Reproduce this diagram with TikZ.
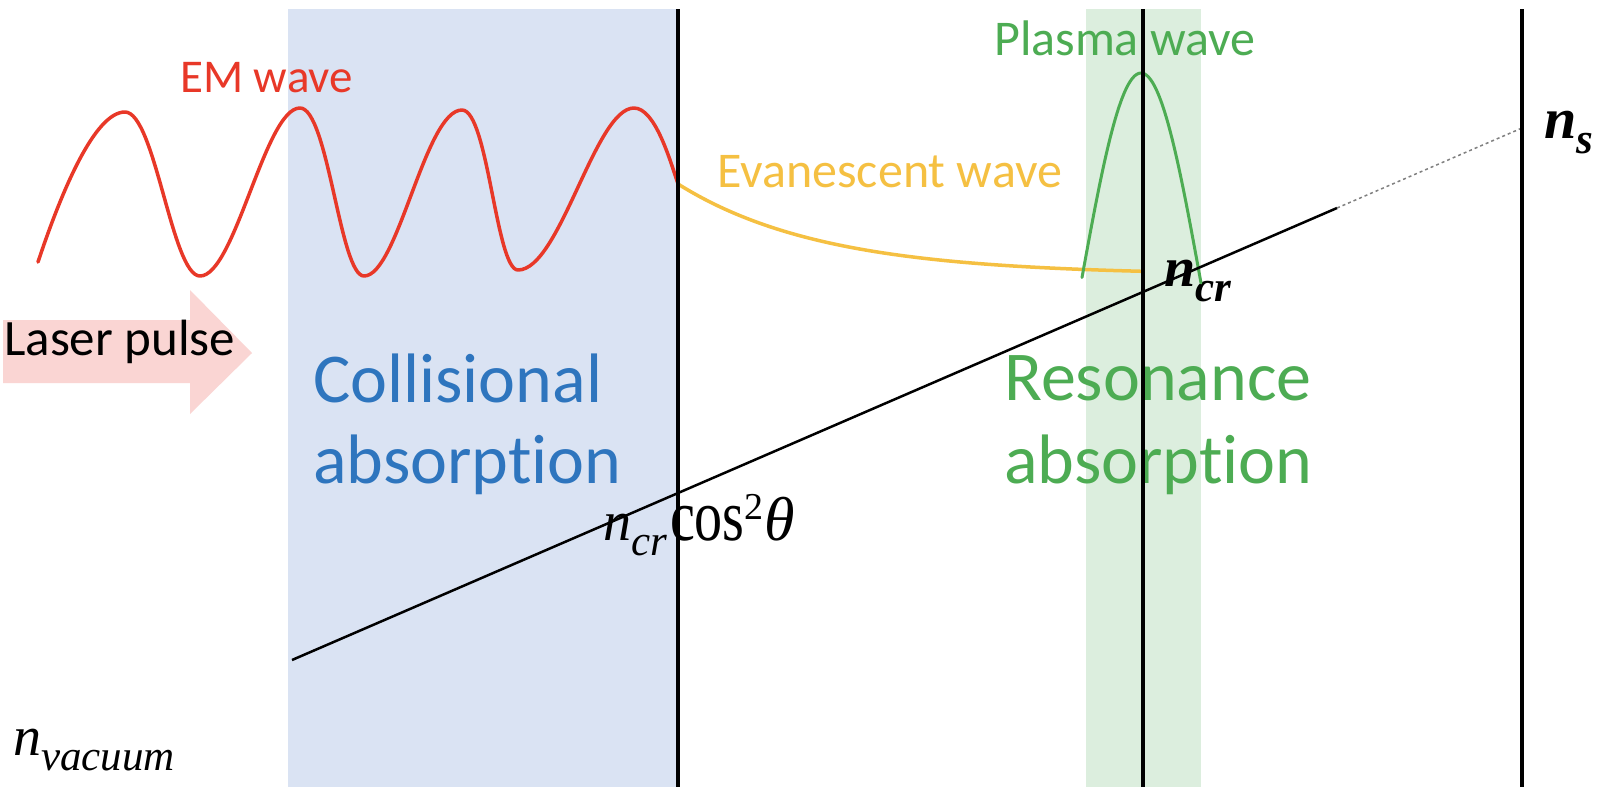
\documentclass[tikz,border=0pt]{standalone}
\usepackage{graphicx}
\usepackage{fontspec}
\newfontfamily\carlito[Ligatures=NoCommon]{Carlito}
\newfontfamily\libser{Liberation Serif}
\definecolor{bluebg}{RGB}{218,227,243}
\definecolor{greenbg}{RGB}{220,238,222}
\definecolor{pinkarrow}{RGB}{250,213,211}
\definecolor{emred}{RGB}{232,56,40}
\definecolor{plgreen}{RGB}{77,172,83}
\definecolor{colblue}{RGB}{46,117,190}
\definecolor{evgold}{RGB}{245,192,66}
\newcommand\lowsub[1]{\raisebox{-15pt}{\fontsize{43}{43}\selectfont\itshape #1}}
\tikzset{
  txt/.style={anchor=base west, inner sep=0pt, font=\carlito\fontsize{50}{60}\selectfont},
  bigtxt/.style={anchor=base west, inner sep=0pt, align=left, font=\carlito\fontsize{70}{81}\selectfont},
  mathlbl/.style={anchor=base west, inner sep=0pt, font=\libser\fontsize{56}{64}\selectfont},
  wave/.style={line width=3.5pt, line cap=round, line join=round},
  vline/.style={line width=3.5pt},
}
\begin{document}
\begin{tikzpicture}[x=1pt,y=-1pt]
\useasboundingbox (0,0) rectangle (1602,796);
\fill[white] (0,0) rectangle (1602,796);
% bands
\fill[bluebg] (288,9) rectangle (678,787);
\fill[greenbg] (1086,9) rectangle (1201,787);
% laser pulse arrow
\fill[pinkarrow] (3,320) -- (190,320) -- (190,290) -- (252,353) -- (190,414) -- (190,383) -- (3,383) -- cycle;
% texts
\node[txt, text=emred, font=\carlito\fontsize{47}{56}\selectfont] (em) at (180,92) {EM wave};
\node[txt, font=\carlito\fontsize{51}{60}\selectfont] (laser) at (4,355) {Laser pulse};
\node[bigtxt, text=colblue] (coll) at (313,402) {Collisional};
\node[bigtxt, text=colblue] (colla) at (313,483) {absorption};
\node[bigtxt, text=plgreen] (res) at (1004,400) {Resonance};
\node[bigtxt, text=plgreen] (resa) at (1004,483) {absorption};
\node[txt, text=plgreen] (plasma) at (994,55) {Plasma wave};
\node[txt, text=evgold] (evan) at (717,187) {Evanescent wave};
\node[mathlbl] (ncos) at (603,540) {\itshape n\lowsub{cr}\hspace{3pt}\upshape\scalebox{1}[1.3]{cos}\raisebox{21pt}{\fontsize{38}{38}\selectfont 2}\hspace{1pt}{\fontsize{62}{62}\selectfont\itshape θ}};
\node[mathlbl, font=\libser\bfseries\fontsize{56}{64}\selectfont] (ncr) at (1164,286) {\itshape n\lowsub{cr}};
\node[mathlbl, font=\libser\bfseries\fontsize{58}{64}\selectfont] (ns) at (1544,138) {\itshape n\lowsub{s}};
\node[mathlbl] (nvac) at (13,755) {\itshape n\lowsub{vacuum}};
% waves
\draw[wave, emred] (38,262) .. controls (62,190) and (95,112) .. (125,112)
  .. controls (155,112) and (172,276) .. (200,276)
  .. controls (235,276) and (265,108) .. (300,108)
  .. controls (328,108) and (340,276) .. (364,276)
  .. controls (398,276) and (425,110) .. (462,110)
  .. controls (488,110) and (496,270) .. (518,270)
  .. controls (560,270) and (595,108) .. (634,108)
  .. controls (655,108) and (670,160) .. (678,184);
\draw[wave, evgold] plot[domain=678:1143, samples=80, smooth] (\x, {275-91*exp(-(\x-678)/145)});
\draw[wave, plgreen, line width=3pt] plot[domain=-59:60, samples=60, smooth] ({1141+\x}, {73+210*(1-cos(\x*1.5))});
% density line
\coordinate (ls) at (292,660);
\coordinate (le) at (1337,208);
\coordinate (ld) at (1522,128);
\draw[line width=2.5pt] (ls) -- (le);
\draw[gray, dashed, line width=1.5pt] (le) -- (ld);
% vertical boundaries
\coordinate (v1t) at (678,9); \coordinate (v1b) at (678,787);
\coordinate (v2t) at (1143,9); \coordinate (v2b) at (1143,787);
\coordinate (v3t) at (1522,9); \coordinate (v3b) at (1522,787);
\draw[vline] (v1t) -- (v1b);
\draw[vline] (v2t) -- (v2b);
\draw[vline] (v3t) -- (v3b);
\end{tikzpicture}
\end{document}
